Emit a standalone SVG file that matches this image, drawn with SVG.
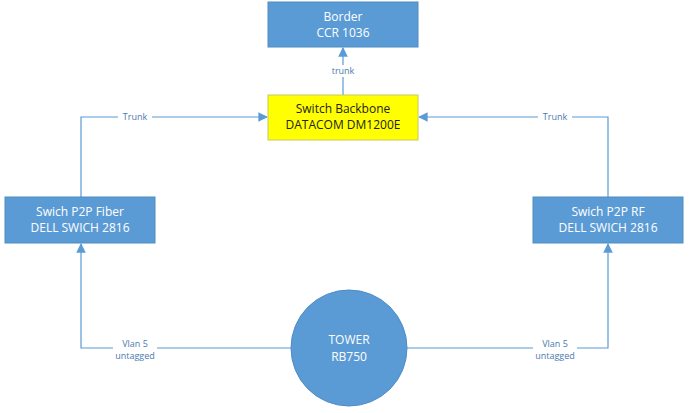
<svg xmlns="http://www.w3.org/2000/svg" width="689" height="413" viewBox="0 0 689 413">
<style>
.n{fill:#5b9bd5;stroke:#4f8cc4;stroke-width:1}
.t{font-family:"Open Sans","Liberation Sans",sans-serif;font-size:12px;fill:#fff;text-anchor:middle}
.l{font-family:"Open Sans","Liberation Sans",sans-serif;font-size:9px;fill:#4a7ab0;text-anchor:middle}
.c{fill:none;stroke:#5b9bd5;stroke-width:1.2}
</style>
<defs><marker id="a" viewBox="0 0 10 10" refX="9" refY="5" markerWidth="8" markerHeight="8" orient="auto"><path d="M0,0L10,5L0,10z" fill="#5b9bd5"/></marker></defs>
<rect width="689" height="413" fill="#fff"/>
<g id="connectors">
<path class="c" d="M343,95V48" marker-end="url(#a)"/>
<path class="c" d="M81,197V117H267" marker-end="url(#a)"/>
<path class="c" d="M608,197V117H419" marker-end="url(#a)"/>
<path class="c" d="M291,348H81V244" marker-end="url(#a)"/>
<path class="c" d="M407,348H608V244" marker-end="url(#a)"/>
<rect x="330" y="65" width="26" height="12" fill="#fff"/>
<text class="l" x="343" y="74">trunk</text>
<rect x="118" y="111" width="34" height="12" fill="#fff"/>
<text class="l" x="135" y="120">Trunk</text>
<rect x="538" y="111" width="34" height="12" fill="#fff"/>
<text class="l" x="555" y="120">Trunk</text>
<rect x="113" y="341" width="44" height="20" fill="#fff"/>
<text class="l" x="135" y="347">Vlan 5</text><text class="l" x="135" y="359">untagged</text>
<rect x="533" y="341" width="44" height="20" fill="#fff"/>
<text class="l" x="555" y="347">Vlan 5</text><text class="l" x="555" y="359">untagged</text>
</g>
<g id="border"><rect class="n" x="268" y="2" width="150" height="45"/><text class="t" x="343" y="21">Border</text><text class="t" x="343" y="37">CCR 1036</text></g>
<g id="backbone"><rect x="268" y="95" width="150" height="45" fill="#ffff00" stroke="#c8c864"/><text class="t" x="343" y="113" style="fill:#222">Switch Backbone</text><text class="t" x="343" y="129" style="fill:#222">DATACOM DM1200E</text></g>
<g id="fiber"><rect class="n" x="5" y="197" width="150" height="46"/><text class="t" x="80" y="216">Swich P2P Fiber</text><text class="t" x="80" y="232">DELL SWICH 2816</text></g>
<g id="rf"><rect class="n" x="533" y="197" width="150" height="46"/><text class="t" x="608" y="216">Swich P2P RF</text><text class="t" x="608" y="232">DELL SWICH 2816</text></g>
<g id="tower"><circle class="n" cx="349" cy="348" r="58"/><text class="t" x="349" y="344">TOWER</text><text class="t" x="349" y="361">RB750</text></g>
</svg>
